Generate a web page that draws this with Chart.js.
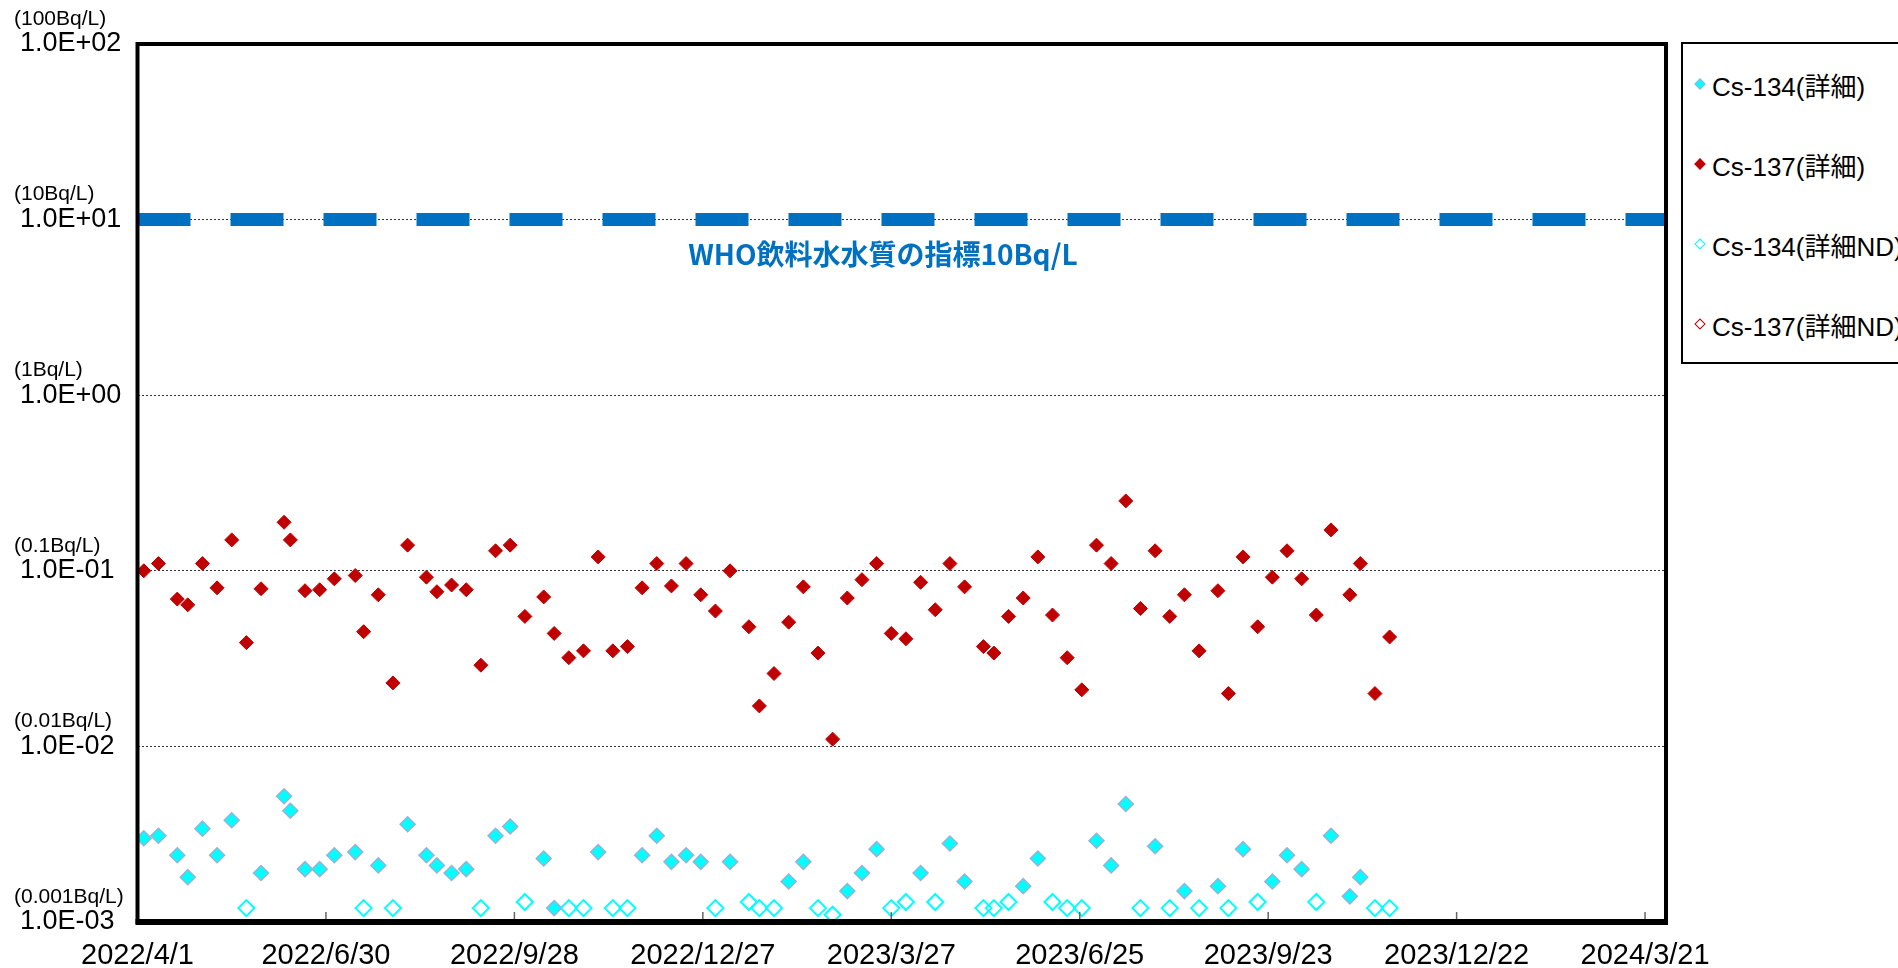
<!DOCTYPE html>
<html>
<head>
<meta charset="utf-8">
<script src="https://cdn.jsdelivr.net/npm/chart.js@4.4.1/dist/chart.umd.min.js"></script>
<style>
  html, body { margin: 0; padding: 0; background: #fff; overflow: hidden; }
  #wrap { position: relative; width: 1898px; height: 968px; overflow: hidden; }
  #legend {
    position: absolute; left: 1681px; top: 42px; width: 300px; height: 318px;
    border: 2px solid #000; background: #fff;
    font: 26px 'Liberation Sans', 'Noto Sans CJK JP', sans-serif; color: #000;
  }
  #legend .item { height: 80px; display: flex; align-items: center; white-space: nowrap; }
  #legend .mark { width: 8px; height: 8px; transform: rotate(45deg); margin: 0 8px 0 13px; box-sizing: border-box; flex: none; }
</style>
</head>
<body>
<div id="wrap">
  <canvas id="chart"></canvas>
  <div id="legend"></div>
</div>
<script>
// sampling dates (weekly)
const sampleDates = [
  '2022/4/4', '2022/4/11', '2022/4/20', '2022/4/25', '2022/5/2', '2022/5/9', '2022/5/16', '2022/5/23', '2022/5/30', '2022/6/10',
  '2022/6/13', '2022/6/20', '2022/6/27', '2022/7/4', '2022/7/14', '2022/7/18', '2022/7/25', '2022/8/1', '2022/8/8', '2022/8/17',
  '2022/8/22', '2022/8/29', '2022/9/5', '2022/9/12', '2022/9/19', '2022/9/26', '2022/10/3', '2022/10/12', '2022/10/17', '2022/10/24',
  '2022/10/31', '2022/11/7', '2022/11/14', '2022/11/21', '2022/11/28', '2022/12/5', '2022/12/12', '2022/12/19', '2022/12/26', '2023/1/2',
  '2023/1/9', '2023/1/18', '2023/1/23', '2023/1/30', '2023/2/6', '2023/2/13', '2023/2/20', '2023/2/27', '2023/3/6', '2023/3/13',
  '2023/3/20', '2023/3/27', '2023/4/3', '2023/4/10', '2023/4/17', '2023/4/24', '2023/5/1', '2023/5/10', '2023/5/15', '2023/5/22',
  '2023/5/29', '2023/6/5', '2023/6/12', '2023/6/19', '2023/6/26', '2023/7/3', '2023/7/10', '2023/7/17', '2023/7/24', '2023/7/31',
  '2023/8/7', '2023/8/14', '2023/8/21', '2023/8/30', '2023/9/4', '2023/9/11', '2023/9/18', '2023/9/25', '2023/10/2', '2023/10/9',
  '2023/10/16', '2023/10/23', '2023/11/1', '2023/11/6', '2023/11/13', '2023/11/20'
];

// Bq/L
const cs137 = [
  0.100, 0.110, 0.069, 0.064, 0.110, 0.080, 0.150, 0.039, 0.079, 0.189,
  0.150, 0.077, 0.078, 0.090, 0.094, 0.045, 0.073, 0.023, 0.140, 0.092,
  0.076, 0.083, 0.078, 0.029, 0.130, 0.140, 0.055, 0.071, 0.044, 0.032,
  0.035, 0.120, 0.035, 0.037, 0.080, 0.110, 0.082, 0.110, 0.073, 0.059,
  0.100, 0.048, 0.017, 0.026, 0.051, 0.081, 0.034, 0.011, 0.070, 0.089,
  0.110, 0.044, 0.041, 0.086, 0.060, 0.110, 0.081, 0.037, 0.034, 0.055,
  0.070, 0.120, 0.056, 0.032, 0.021, 0.140, 0.110, 0.250, 0.061, 0.130,
  0.055, 0.073, 0.035, 0.077, 0.020, 0.120, 0.048, 0.092, 0.130, 0.090,
  0.056, 0.171, 0.073, 0.110, 0.020, 0.042
];

// null = not detected (see cs134ND)
const cs134 = [
  0.0030, 0.0031, 0.0024, 0.0018, 0.0034, 0.0024, 0.0038, null, 0.0019, 0.0052,
  0.0043, 0.0020, 0.0020, 0.0024, 0.0025, null, 0.0021, null, 0.0036, 0.0024,
  0.0021, 0.0019, 0.0020, null, 0.0031, 0.0035, null, 0.0023, 0.0012, null,
  null, 0.0025, null, null, 0.0024, 0.0031, 0.0022, 0.0024, 0.0022, null,
  0.0022, null, null, null, 0.0017, 0.0022, null, null, 0.0015, 0.0019,
  0.0026, null, null, 0.0019, null, 0.0028, 0.0017, null, null, null,
  0.0016, 0.0023, null, null, null, 0.0029, 0.0021, 0.0047, null, 0.0027,
  null, 0.0015, null, 0.0016, null, 0.0026, null, 0.0017, 0.0024, 0.0020,
  null, 0.0031, 0.0014, 0.0018, null, null
];

// detection limits plotted for ND samples
const cs134ND = [
  null, null, null, null, null, null, null, 0.0012, null, null,
  null, null, null, null, null, 0.0012, null, 0.0012, null, null,
  null, null, null, 0.0012, null, null, 0.0013, null, null, 0.0012,
  0.0012, null, 0.0012, 0.0012, null, null, null, null, null, 0.0012,
  null, 0.0013, 0.0012, 0.0012, null, null, 0.0012, 0.0011, null, null,
  null, 0.0012, 0.0013, null, 0.0013, null, null, 0.0012, 0.0012, 0.0013,
  null, null, 0.0013, 0.0012, 0.0012, null, null, null, 0.0012, null,
  0.0012, null, 0.0012, null, 0.0012, null, 0.0013, null, null, null,
  0.0013, null, null, null, 0.0012, 0.0012
];

const cs137ND = [];

const whoLimit = 10;
const whoLabel = 'WHO飲料水水質の指標10Bq/L';

const xStart = '2022/4/1';
const xEnd = '2024/3/31';
const xTickLabels = ['2022/4/1', '2022/6/30', '2022/9/28', '2022/12/27', '2023/3/27', '2023/6/25', '2023/9/23', '2023/12/22', '2024/3/21'];

const yTicks = [0.001, 0.01, 0.1, 1, 10, 100];
const yUnitLabels = ['(0.001Bq/L)', '(0.01Bq/L)', '(0.1Bq/L)', '(1Bq/L)', '(10Bq/L)', '(100Bq/L)'];

const dayOf = (s) => {
  const p = s.split('/').map(Number);
  const s0 = xStart.split('/').map(Number);
  return (Date.UTC(p[0], p[1] - 1, p[2]) - Date.UTC(s0[0], s0[1] - 1, s0[2])) / 864e5;
};

const toPoints = (values) => values
  .map((v, i) => (v == null ? null : { x: dayOf(sampleDates[i]), y: v }))
  .filter(Boolean);

const sci = (v) => {
  const e = Math.round(Math.log10(v));
  return '1.0E' + (e < 0 ? '-' : '+') + String(Math.abs(e)).padStart(2, '0');
};

const decorations = {
  id: 'decorations',
  afterDraw(chart) {
    const { ctx, chartArea: a, scales: { x, y } } = chart;
    ctx.save();

    // unit labels above the tick labels
    ctx.fillStyle = '#000';
    ctx.font = "21px 'Liberation Sans'";
    ctx.textAlign = 'left';
    ctx.textBaseline = 'middle';
    yTicks.forEach((v, i) => ctx.fillText(yUnitLabels[i], 14, y.getPixelForValue(v) - 25));

    // WHO guideline text
    ctx.fillStyle = '#0070C0';
    ctx.font = "bold 28px 'Noto Sans CJK JP'";
    ctx.textAlign = 'center';
    ctx.fillText(whoLabel, x.getPixelForValue(356), y.getPixelForValue(whoLimit) + 35);

    // inward tick marks on the date axis
    ctx.strokeStyle = '#666';
    ctx.lineWidth = 1.5;
    x.ticks.forEach((t) => {
      const px = x.getPixelForValue(t.value);
      ctx.beginPath();
      ctx.moveTo(px, a.bottom);
      ctx.lineTo(px, a.bottom - 10);
      ctx.stroke();
    });

    // plot frame
    ctx.strokeStyle = '#000';
    ctx.lineWidth = 4;
    ctx.strokeRect(a.left, a.top, a.right - a.left, a.bottom - a.top);
    ctx.lineWidth = 6;
    ctx.beginPath();
    ctx.moveTo(a.left - 2, a.bottom);
    ctx.lineTo(a.right + 2, a.bottom);
    ctx.stroke();
    ctx.restore();
  }
};

const chart = new Chart(document.getElementById('chart'), {
  type: 'scatter',
  data: {
    datasets: [
      {
        label: 'Cs-134(詳細)',
        data: toPoints(cs134),
        pointStyle: 'rectRot',
        pointRadius: 7.5,
        backgroundColor: '#00FFFF',
        borderColor: '#95B3D7',
        borderWidth: 1.5,
      },
      {
        label: 'Cs-137(詳細)',
        data: toPoints(cs137),
        pointStyle: 'rectRot',
        pointRadius: 7,
        backgroundColor: '#C00000',
        borderColor: '#C00000',
        borderWidth: 1,
      },
      {
        label: 'Cs-134(詳細ND)',
        data: toPoints(cs134ND),
        pointStyle: 'rectRot',
        pointRadius: 8,
        backgroundColor: 'rgba(255,255,255,0)',
        borderColor: '#00FFFF',
        borderWidth: 2,
      },
      {
        label: 'Cs-137(詳細ND)',
        data: toPoints(cs137ND),
        pointStyle: 'rectRot',
        pointRadius: 8,
        backgroundColor: 'rgba(255,255,255,0)',
        borderColor: '#C00000',
        borderWidth: 2,
      },
      {
        label: 'WHO',
        data: [{ x: dayOf(xStart), y: whoLimit }, { x: dayOf(xEnd), y: whoLimit }],
        showLine: true,
        borderColor: '#0070C0',
        borderWidth: 13,
        borderDash: [53, 40],
        borderCapStyle: 'butt',
        pointRadius: 0,
        hideInLegend: true,
      },
    ],
  },
  options: {
    responsive: true,
    maintainAspectRatio: false,
    animation: false,
    layout: { padding: { left: 20, top: 44, right: 232, bottom: 0 } },
    plugins: {
      legend: { display: false },
      tooltip: { enabled: false },
    },
    scales: {
      x: {
        type: 'linear',
        min: dayOf(xStart),
        max: dayOf(xEnd),
        afterBuildTicks: (s) => { s.ticks = xTickLabels.map((l) => ({ value: dayOf(l) })); },
        afterFit: (s) => { s.height = 46; },
        grid: { display: false },
        border: { display: false },
        ticks: {
          autoSkip: false,
          maxRotation: 0,
          padding: 9,
          color: '#000',
          font: { family: "'Liberation Sans'", size: 29 },
          callback: (v, i) => xTickLabels[i],
        },
      },
      y: {
        type: 'logarithmic',
        min: yTicks[0],
        max: yTicks[yTicks.length - 1],
        afterBuildTicks: (s) => { s.ticks = yTicks.map((v) => ({ value: v })); },
        afterFit: (s) => { s.width = 117.5; },
        grid: { color: '#333', lineWidth: 1, drawTicks: false },
        border: { display: false, dash: [2, 2] },
        ticks: {
          crossAlign: 'far',
          padding: 0,
          color: '#000',
          font: { family: "'Liberation Sans'", size: 27 },
          callback: (v) => sci(v),
        },
      },
    },
  },
  plugins: [decorations],
});

// html legend
const legendEl = document.getElementById('legend');
chart.data.datasets.filter((ds) => !ds.hideInLegend).forEach((ds) => {
  const item = document.createElement('div');
  item.className = 'item';
  const mark = document.createElement('span');
  mark.className = 'mark';
  const filled = ds.backgroundColor !== 'rgba(255,255,255,0)';
  mark.style.background = filled ? ds.backgroundColor : '#fff';
  mark.style.border = (filled ? 1 : 1.5) + 'px solid ' + ds.borderColor;
  item.appendChild(mark);
  item.appendChild(document.createTextNode(ds.label));
  legendEl.appendChild(item);
});
</script>
</body>
</html>
